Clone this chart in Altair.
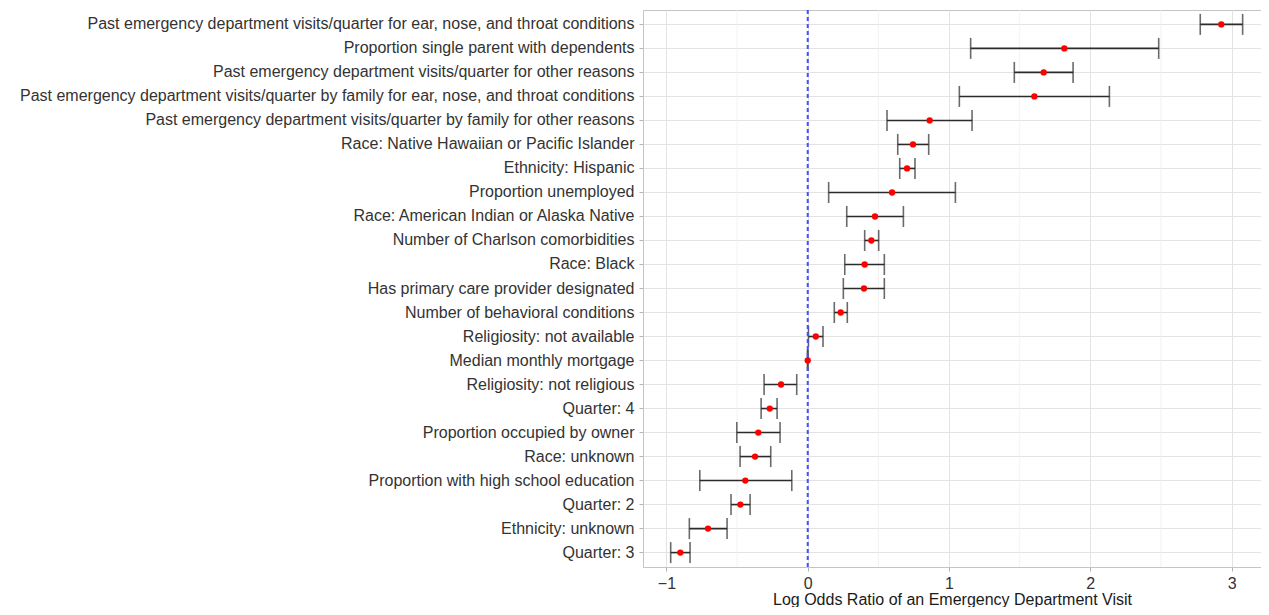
import altair as alt
import pandas as pd

terms = [
    "Past emergency department visits/quarter for ear, nose, and throat conditions",
    "Proportion single parent with dependents",
    "Past emergency department visits/quarter for other reasons",
    "Past emergency department visits/quarter by family for ear, nose, and throat conditions",
    "Past emergency department visits/quarter by family for other reasons",
    "Race: Native Hawaiian or Pacific Islander",
    "Ethnicity: Hispanic",
    "Proportion unemployed",
    "Race: American Indian or Alaska Native",
    "Number of Charlson comorbidities",
    "Race: Black",
    "Has primary care provider designated",
    "Number of behavioral conditions",
    "Religiosity: not available",
    "Median monthly mortgage",
    "Religiosity: not religious",
    "Quarter: 4",
    "Proportion occupied by owner",
    "Race: unknown",
    "Proportion with high school education",
    "Quarter: 2",
    "Ethnicity: unknown",
    "Quarter: 3",
]
estimate = [2.927, 1.816, 1.670, 1.604, 0.863, 0.745, 0.703, 0.597, 0.476, 0.450,
            0.403, 0.398, 0.233, 0.057, 0.0, -0.189, -0.269, -0.350, -0.373, -0.442,
            -0.477, -0.706, -0.902]
lower = [2.778, 1.153, 1.462, 1.073, 0.561, 0.637, 0.651, 0.148, 0.276, 0.403,
         0.262, 0.252, 0.188, 0.005, -0.002, -0.309, -0.330, -0.502, -0.479, -0.764,
         -0.543, -0.838, -0.970]
upper = [3.078, 2.484, 1.878, 2.135, 1.163, 0.856, 0.759, 1.045, 0.677, 0.502,
         0.542, 0.542, 0.280, 0.108, 0.002, -0.078, -0.217, -0.196, -0.262, -0.113,
         -0.408, -0.571, -0.833]
minor_grid = [-0.5, 0.5, 1.5, 2.5]
x_ticks = [-1, 0, 1, 2, 3]

df = pd.DataFrame({"term": terms, "est": estimate, "lo": lower, "hi": upper})
minor_df = pd.DataFrame({"v": minor_grid})
zero_df = pd.DataFrame({"v": [0]})

FONT = "Liberation Sans"
xscale = alt.Scale(domain=[-1.166, 3.208], nice=False, zero=False)
yscale = alt.Scale(type="band", domain=terms, paddingInner=0, paddingOuter=0.1)

base = alt.Chart(df)

x_axis = alt.Axis(values=x_ticks, title="Log Odds Ratio of an Emergency Department Visit",
                  grid=True, gridColor="#e3e3e3", gridWidth=1,
                  tickColor="#b3b3b3", tickSize=4, domain=False,
                  labelFont=FONT, labelFontSize=16, labelColor="#333333", labelPadding=4,
                  titleFont=FONT, titleFontSize=16, titleFontWeight="normal",
                  titleColor="#1a1a1a", titlePadding=0)
y_axis = alt.Axis(title=None, grid=True, gridColor="#e3e3e3", gridWidth=1,
                  tickColor="#b3b3b3", tickSize=4, domain=False,
                  labelFont=FONT, labelFontSize=16, labelColor="#333333", labelPadding=5,
                  labelLimit=0)

minor = alt.Chart(minor_df).mark_rule(color="#efefef", strokeWidth=0.8).encode(
    x=alt.X("v:Q", scale=xscale, axis=x_axis)
)

rules = base.mark_rule(color="#2b2b2b", strokeWidth=1.6).encode(
    y=alt.Y("term:N", scale=yscale, axis=y_axis, sort=terms),
    x=alt.X("lo:Q", scale=xscale, axis=x_axis),
    x2="hi:Q",
)
cap_lo = base.mark_tick(color="#2b2b2b", thickness=1.6, size=21).encode(
    y=alt.Y("term:N", scale=yscale, axis=y_axis, sort=terms),
    x=alt.X("lo:Q", scale=xscale, axis=x_axis),
)
cap_hi = base.mark_tick(color="#2b2b2b", thickness=1.6, size=21).encode(
    y=alt.Y("term:N", scale=yscale, axis=y_axis, sort=terms),
    x=alt.X("hi:Q", scale=xscale, axis=x_axis),
)
zero = alt.Chart(zero_df).mark_rule(color="#4450ff", strokeWidth=2, strokeDash=[4, 3]).encode(
    x=alt.X("v:Q", scale=xscale, axis=x_axis)
)
points = base.mark_circle(color="#ff0000", opacity=1, size=40).encode(
    y=alt.Y("term:N", scale=yscale, axis=y_axis, sort=terms),
    x=alt.X("est:Q", scale=xscale, axis=x_axis),
)

chart = alt.layer(minor, rules, cap_lo, cap_hi, zero, points).properties(
    width=618, height=557,
    autosize=alt.AutoSizeParams(type="none"),
    padding={"left": 635, "top": 2, "right": 0, "bottom": 40},
).configure_view(stroke="#c4c4c4", strokeWidth=1)

chart.save("out.html", embed_options={"renderer": "svg", "actions": False})
